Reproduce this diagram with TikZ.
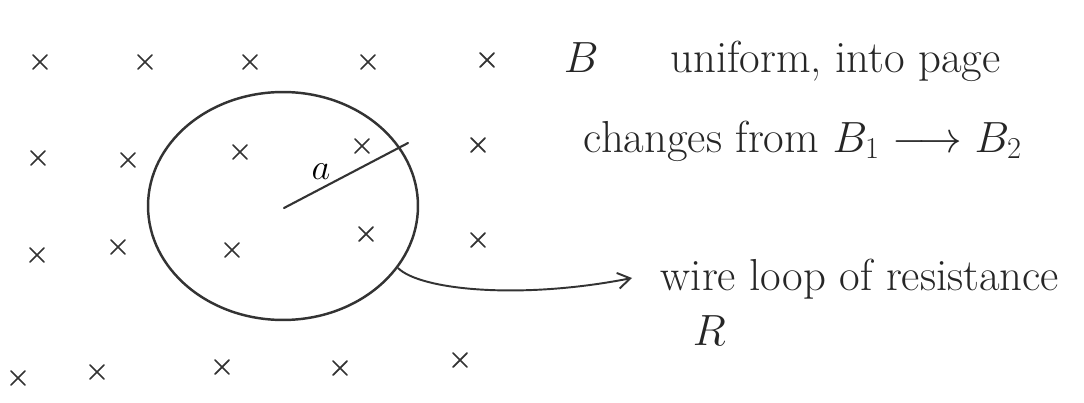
\documentclass[tikz,border=0pt]{standalone}
\usetikzlibrary{arrows.meta,shapes.geometric}
\begin{document}
\begin{tikzpicture}[x=0.02cm,y=-0.02cm,
  line width=1.1pt, line cap=round, draw=black!80,
  hand/.style={font=\fontsize{25.5}{30}\selectfont, text=black!85, inner sep=0pt, anchor=base west},
  cross/.pic={\draw[line width=1pt] (-7,-7)--(7,7) (-7,7)--(7,-7);}]
\useasboundingbox (0,0) rectangle (1084,402);
% crosses
\foreach \x/\y in {40/62,145/62,250/62,368/62,487/60,
                   38/158,128/160,240/152,362/146,478/145,
                   37/255,118/247,232/250,366/234,478/240,
                   18/378,97/372,222/367,340/368,460/360}
  \pic at (\x,\y) {cross};
% loop
\node[draw, line width=1.4pt, ellipse, minimum width=5.4cm, minimum height=4.56cm, inner sep=0pt] (loop) at (283,206) {};
\coordinate (c) at (284,208);
\coordinate (rend) at (408,143);
\draw[line width=1.2pt] (c) -- (rend);
\node[font=\fontsize{20}{24}\selectfont, inner sep=0pt] (a) at (321,172) {$a$};
% text
\node[hand] (t1) at (563,72) {$B$\hspace{1.6em}uniform, into page};
\node[hand] (t2) at (583,152) {changes from $B_1 \longrightarrow B_2$};
\node[hand] (t3) at (660,290) {wire loop of resistance};
\node[hand] (tR) at (692,345) {$R$};
\coordinate (s) at (398,268);
\coordinate (e) at (632,278);
\draw[-{Straight Barb[length=7pt,width=9pt]}, line width=1.1pt] (s) .. controls (420,290) and (520,300) .. (e);
\end{tikzpicture}
\end{document}
